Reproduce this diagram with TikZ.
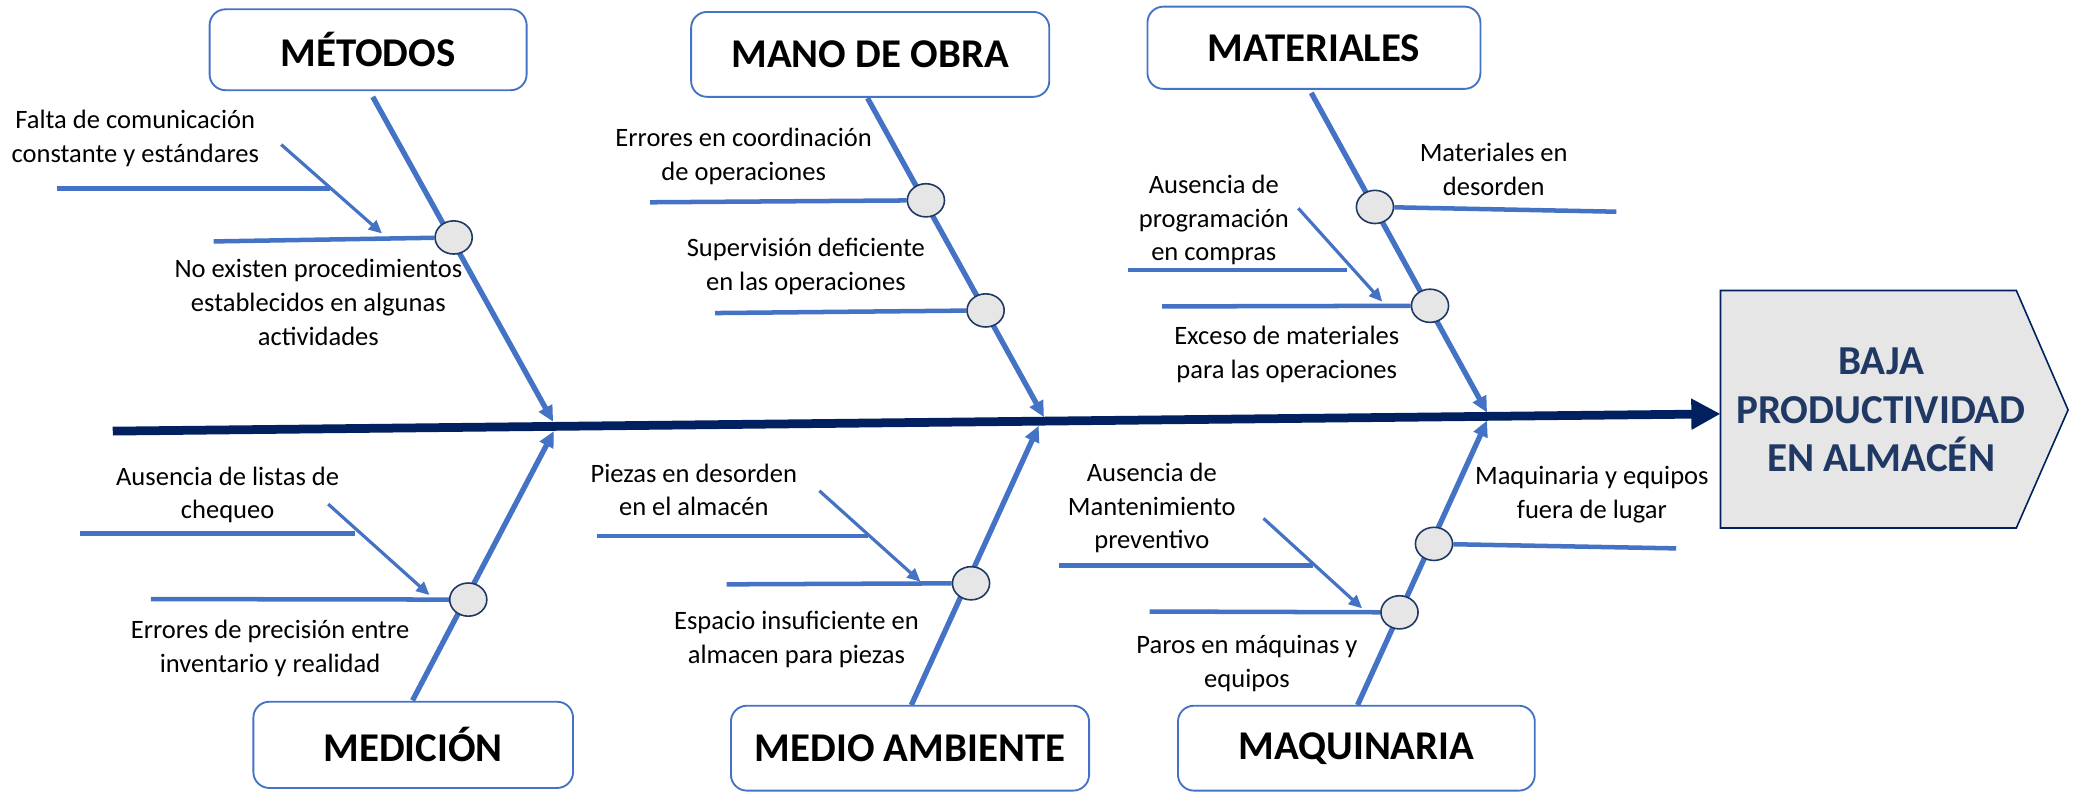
\documentclass[tikz,border=0pt]{standalone}
\usepackage{fontspec}
\setmainfont{Carlito}
\usetikzlibrary{arrows.meta,shapes.geometric,backgrounds}
\definecolor{bblue}{HTML}{4472C4}
\definecolor{navy}{HTML}{002060}
\definecolor{knotfill}{HTML}{E7E6E6}
\definecolor{knotline}{HTML}{1F3864}
\definecolor{efffill}{HTML}{E7E6E6}
\definecolor{efftext}{HTML}{1F3864}
\begin{document}
\begin{tikzpicture}[x=0.5pt,y=-0.5pt,
  catbox/.style={draw=bblue, line width=0.7pt, rounded corners=6pt, fill=white, inner sep=0,
    font=\fontsize{15.4}{18}\selectfont\bfseries},
  lbl/.style={align=center, inner sep=0, font=\fontsize{10}{12.7}\selectfont},
  knot/.style={ellipse, draw=knotline, fill=knotfill, line width=0.6pt, minimum width=14pt, minimum height=12.5pt, inner sep=0},
  bone/.style={draw=bblue, line width=2pt, -{Triangle[length=6pt,width=5.5pt]}},
  rib/.style={draw=bblue, line width=1.7pt},
  twig/.style={draw=bblue, line width=1.2pt, -{Triangle[length=5pt,width=4.5pt]}},
  spine/.style={draw=navy, line width=3.3pt, -{Triangle[length=11pt,width=11pt]}},
  effshape/.style={draw=navy, line width=0.6pt, fill=efffill},
  efflbl/.style={align=center, inner sep=0, text=efftext, font=\fontsize{15.5}{18.25}\selectfont\bfseries}]
\useasboundingbox (0,0) rectangle (1568,599);

% effect head
\path[effshape] (1297,219) -- (1520,219) -- (1559,309) -- (1520,398) -- (1297,398) -- cycle;
\node[efflbl] (effect) at (1418,309) {BAJA\\PRODUCTIVIDAD\\EN ALMAC\'EN};
\coordinate (spineL) at (85,325);
\coordinate (spineR) at (1297,312);

% category boxes
\node[catbox, minimum width=119.5pt, minimum height=30.5pt] (metodos) at (277.5,37.5) {M\'ETODOS};
\node[catbox, minimum width=135pt, minimum height=32pt] (mano) at (656,41) {MANO DE OBRA};
\node[catbox, minimum width=125.5pt, minimum height=31pt] (materiales) at (990.5,36) {MATERIALES};
\node[catbox, minimum width=120.5pt, minimum height=32.5pt] (medicion) at (311.5,561.5) {MEDICI\'ON};
\node[catbox, minimum width=135pt, minimum height=32pt] (medio) at (686,564) {MEDIO AMBIENTE};
\node[catbox, minimum width=134.5pt, minimum height=32pt] (maquinaria) at (1022.5,564) {MAQUINARIA};

% knots
\node[knot] (k1) at (342,179) {};
\node[knot] (k2) at (698,151) {};
\node[knot] (k3) at (743,234) {};
\node[knot] (k4) at (1036.5,156) {};
\node[knot] (k5) at (1078,230.5) {};
\node[knot] (k6) at (353,452) {};
\node[knot] (k7) at (732,439.7) {};
\node[knot] (k8) at (1081,410) {};
\node[knot] (k9) at (1055,461.6) {};

% free ends
\coordinate (mS) at (281,73);   \coordinate (mT) at (417,318);
\coordinate (oS) at (654,74);   \coordinate (oT) at (787,314.5);
\coordinate (aS) at (988.5,70); \coordinate (aT) at (1121,311);
\coordinate (dS) at (311,528);  \coordinate (dT) at (417.5,325);
\coordinate (eS) at (687,531.5);\coordinate (eT) at (783,321);
\coordinate (qS) at (1023.4,531.5); \coordinate (qT) at (1121,317);

\begin{scope}[on background layer]
  \draw[spine] (spineL) -- (spineR);
  % Metodos
  \draw[bone] (mS) -- (mT);
  \coordinate (r1a) at (43,142); \coordinate (r1b) at (249,142);
  \draw[rib] (r1a) -- (r1b);
  \coordinate (r2a) at (161,182);
  \draw[rib] (r2a) -- (k1);
  \coordinate (t1a) at (212,109); \coordinate (t1b) at (288,176);
  \draw[twig] (t1a) -- (t1b);
  % Mano de obra
  \draw[bone] (oS) -- (oT);
  \coordinate (r3a) at (490,152.5); \draw[rib] (r3a) -- (k2);
  \coordinate (r4a) at (539,236);   \draw[rib] (r4a) -- (k3);
  % Materiales
  \draw[bone] (aS) -- (aT);
  \coordinate (r5b) at (1218.5,159.6); \draw[rib] (k4) -- (r5b);
  \coordinate (r6a) at (850,203.6); \coordinate (r6b) at (1015.5,203.6);
  \draw[rib] (r6a) -- (r6b);
  \coordinate (r7a) at (876,231); \draw[rib] (r7a) -- (k5);
  \coordinate (t2a) at (978.7,157); \coordinate (t2b) at (1042,227.4);
  \draw[twig] (t2a) -- (t2b);
  % Medicion
  \draw[bone] (dS) -- (dT);
  \coordinate (r8a) at (60,402); \coordinate (r8b) at (267.6,402);
  \draw[rib] (r8a) -- (r8b);
  \coordinate (r9a) at (113.8,451.6); \draw[rib] (r9a) -- (k6);
  \coordinate (t3a) at (247.4,380); \coordinate (t3b) at (323.8,448.6);
  \draw[twig] (t3a) -- (t3b);
  % Medio ambiente
  \draw[bone] (eS) -- (eT);
  \coordinate (r10a) at (450,404); \coordinate (r10b) at (654.4,404);
  \draw[rib] (r10a) -- (r10b);
  \coordinate (r11a) at (547.7,440.5); \draw[rib] (r11a) -- (k7);
  \coordinate (t4a) at (617.7,370); \coordinate (t4b) at (693.9,438.5);
  \draw[twig] (t4a) -- (t4b);
  % Maquinaria
  \draw[bone] (qS) -- (qT);
  \coordinate (r12b) at (1263.6,413.4); \draw[rib] (k8) -- (r12b);
  \coordinate (r13a) at (798.5,426.4); \coordinate (r13b) at (990,426.4);
  \draw[rib] (r13a) -- (r13b);
  \coordinate (r14a) at (866.6,461); \draw[rib] (r14a) -- (k9);
  \coordinate (t5a) at (952.5,390.8); \coordinate (t5b) at (1026.8,458.6);
  \draw[twig] (t5a) -- (t5b);
\end{scope}

% labels
\node[lbl] (l1) at (102,104.6) {Falta de comunicaci\'on\\constante y est\'andares};
\node[lbl] (l2) at (240,228) {No existen procedimientos\\establecidos en algunas\\actividades};
\node[lbl] (l3) at (560.6,118) {Errores en coordinaci\'on\\de operaciones};
\node[lbl] (l4) at (607.5,200.8) {Supervisi\'on deficiente\\en las operaciones};
\node[lbl] (l5) at (1126,127.5) {Materiales en\\desorden};
\node[lbl] (l6) at (915,166) {Ausencia de\\programaci\'on\\en compras};
\node[lbl] (l7) at (970,267) {Exceso de materiales\\para las operaciones};
\node[lbl] (l8) at (171.6,373) {Ausencia de listas de\\chequeo};
\node[lbl] (l9) at (203.6,488.7) {Errores de precisi\'on entre\\inventario y realidad};
\node[lbl] (l10) at (523,369.4) {Piezas en desorden\\en el almac\'en};
\node[lbl] (l11) at (600.4,481.8) {Espacio insuficiente en\\almacen para piezas};
\node[lbl] (l12) at (868.3,383) {Ausencia de\\Mantenimiento\\preventivo};
\node[lbl] (l13) at (940,500) {Paros en m\'aquinas y\\equipos};
\node[lbl] (l14) at (1200,373) {Maquinaria y equipos\\fuera de lugar};
\end{tikzpicture}
\end{document}
